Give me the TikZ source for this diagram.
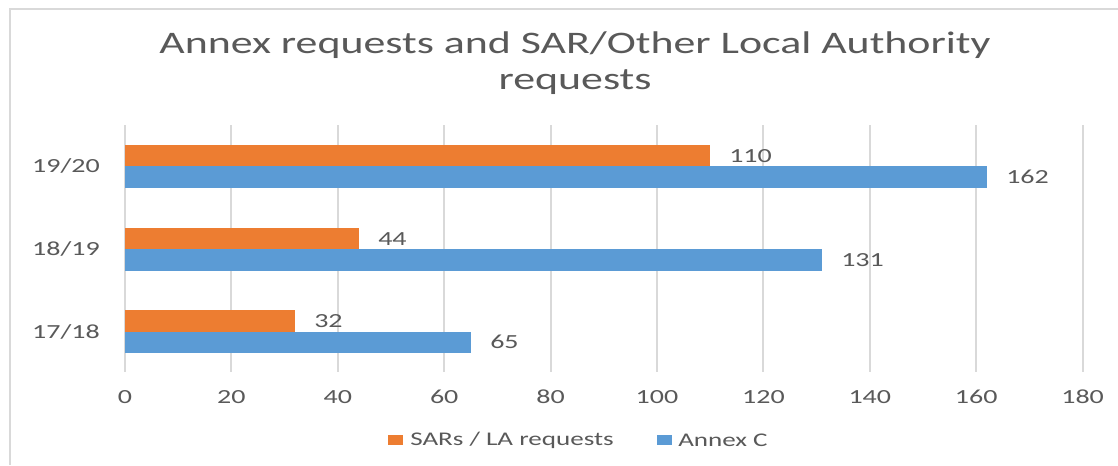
\documentclass[tikz,border=0pt]{standalone}
\usepackage{fontspec}
\setmainfont[FakeStretch=1.4]{Carlito}
\definecolor{sarorange}{HTML}{ED7D31}
\definecolor{annexblue}{HTML}{5B9BD5}
\definecolor{gridgray}{HTML}{D9D9D9}
\definecolor{labelgray}{HTML}{595959}
\tikzset{
  grid line/.style={draw=gridgray, line width=1.5pt},
  sar bar/.style={fill=sarorange, draw=none},
  annex bar/.style={fill=annexblue, draw=none},
  tick text/.style={text=labelgray, font=\fontsize{15}{17}\selectfont, inner sep=0pt},
  value text/.style={text=labelgray, font=\fontsize{15}{17}\selectfont, inner sep=0pt, anchor=west},
  legend text/.style={text=labelgray, font=\fontsize{14.5}{16}\selectfont, inner sep=0pt, anchor=west}
}
\begin{document}
\begin{tikzpicture}[x=0.75pt, y=-0.75pt]
    \useasboundingbox [fill=white] (0,0) rectangle (1118,465);
    \draw [gridgray, line width=1.5pt] (10,465) -- (10,9) -- (1118,9);
    % title
    \node [text=labelgray, font=\fontsize{23.5}{26.5}\selectfont, align=center, inner sep=0pt] (title) at (575,63) {Annex requests and SAR/Other Local Authority\\requests};
    % grid
    \draw [grid line] (125,125) -- (125,372);\draw [grid line] (231.4,125) -- (231.4,372);
    \draw [grid line] (337.8,125) -- (337.8,372);\draw [grid line] (444.2,125) -- (444.2,372);
    \draw [grid line] (550.6,125) -- (550.6,372);\draw [grid line] (657,125) -- (657,372);
    \draw [grid line] (763.4,125) -- (763.4,372);\draw [grid line] (869.8,125) -- (869.8,372);
    \draw [grid line] (976.2,125) -- (976.2,372);\draw [grid line] (1082.6,125) -- (1082.6,372);
    % ticks
    \node [tick text] (t0) at (125,397) {0};\node [tick text] (t20) at (231.4,397) {20};
    \node [tick text] (t40) at (337.8,397) {40};\node [tick text] (t60) at (444.2,397) {60};
    \node [tick text] (t80) at (550.6,397) {80};\node [tick text] (t100) at (657,397) {100};
    \node [tick text] (t120) at (763.4,397) {120};\node [tick text] (t140) at (869.8,397) {140};
    \node [tick text] (t160) at (976.2,397) {160};\node [tick text] (t180) at (1082.6,397) {180};
    % bars 19/20
    \fill [sar bar] (125,144.5) rectangle (710.2,166);\fill [annex bar] (125,166) rectangle (986.8,187.5);
    \node [tick text, anchor=east] (y1920) at (100,166) {19/20};
    \node [value text] (v110) at (729,156) {110};\node [value text] (v162) at (1006,177) {162};
    % bars 18/19
    \fill [sar bar] (125,227.5) rectangle (359.1,249);\fill [annex bar] (125,249) rectangle (821.9,270.5);
    \node [tick text, anchor=east] (y1819) at (100,249) {18/19};
    \node [value text] (v44) at (378,239) {44};\node [value text] (v131) at (841,260) {131};
    % bars 17/18
    \fill [sar bar] (125,310) rectangle (295.2,331.5);\fill [annex bar] (125,331.5) rectangle (470.8,353);
    \node [tick text, anchor=east] (y1718) at (100,331.5) {17/18};
    \node [value text] (v32) at (314,321) {32};\node [value text] (v65) at (490,342) {65};
    % legend
    \fill [sarorange] (388,435) rectangle (403,445);
    \node [legend text] (lsar) at (410,440) {SARs / LA requests};
    \fill [annexblue] (657,435) rectangle (672,445);
    \node [legend text] (lannex) at (678,440) {Annex C};
\end{tikzpicture}
\end{document}
